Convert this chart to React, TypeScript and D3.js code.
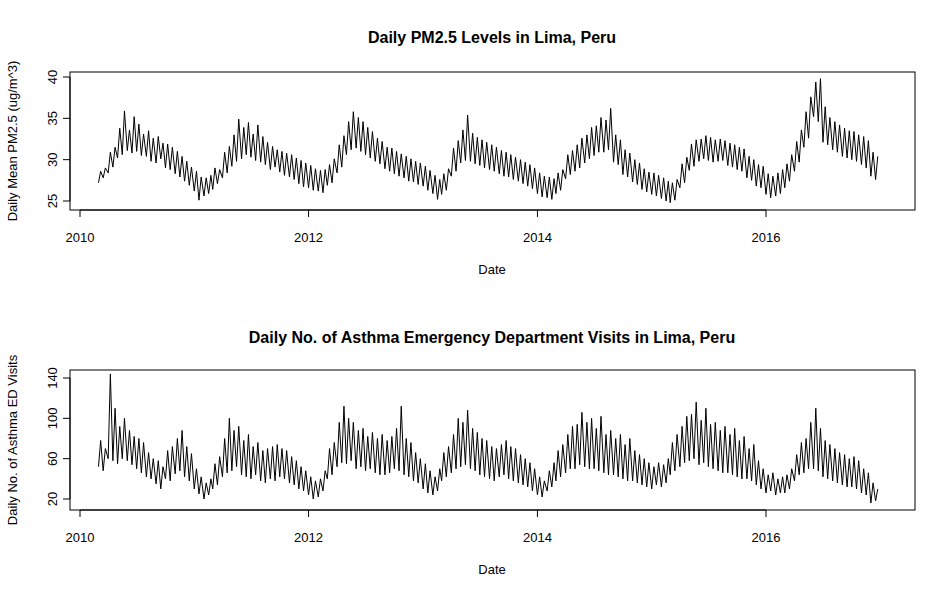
import React from 'react';
import * as d3 from 'd3';

// weekly readings, 4 per month, starting March 2010
const startYear = 2010;
const startMonth = 2; // March (0-based)
const weekDays = [1, 8, 16, 23];

const pm25 = [
  27.2,28.6,27.8,29.0, 28.4,30.9,29.1,31.5, 30.2,33.8,30.6,35.9, 31.1,33.6,30.8,35.2,
  31.0,34.3,30.5,33.1, 30.4,33.5,29.8,32.6, 29.6,32.8,30.1,32.0, 29.0,31.9,28.8,31.5,
  28.3,31.0,27.9,30.4, 27.4,29.8,26.9,29.1,
  26.2,28.6,25.1,27.9, 25.6,27.8,25.9,28.1, 26.4,29.0,27.1,28.8, 27.8,30.9,28.4,31.6,
  29.2,33.0,29.8,34.9, 30.1,33.9,30.6,34.5, 30.3,33.1,29.9,34.2, 29.7,32.8,29.4,32.1,
  28.8,31.6,29.1,31.2, 28.5,31.0,28.1,30.8, 27.9,30.6,27.6,30.2, 27.1,29.9,26.7,29.6,
  26.6,29.3,26.3,28.9, 26.2,28.7,26.0,28.8, 26.9,29.4,27.2,30.1, 28.4,31.8,29.1,32.9,
  30.6,34.6,31.2,35.8, 31.4,35.1,31.0,34.6, 30.6,33.9,30.2,33.4, 29.8,32.6,29.5,32.2,
  28.9,31.5,28.6,31.4, 28.3,31.0,28.0,30.7, 27.8,30.4,27.4,30.1, 27.3,29.8,27.0,29.6,
  26.8,29.2,26.3,28.7, 25.9,28.1,25.2,27.6, 25.8,28.3,26.3,28.9, 28.0,31.4,28.6,32.3,
  29.6,33.6,29.9,35.4, 29.8,33.2,29.5,32.7, 29.3,32.4,29.0,32.1, 28.8,31.8,28.6,31.5,
  28.3,31.1,28.0,30.9, 27.9,30.6,27.6,30.3, 27.4,30.0,27.1,29.7, 26.8,29.4,26.5,29.0,
  25.9,28.4,25.5,28.0, 25.4,27.9,25.2,27.7, 25.9,28.4,26.3,28.8, 27.7,30.6,28.2,31.1,
  28.6,31.8,29.0,32.6, 29.6,33.0,30.1,33.9, 30.5,34.1,30.9,35.1, 30.9,34.8,31.2,36.2,
  29.7,33.0,29.4,32.4, 28.2,31.2,27.9,30.8, 27.3,30.0,27.0,29.6, 26.4,28.9,26.1,28.5,
  25.8,28.4,25.6,28.1, 25.3,27.8,25.0,27.4, 24.8,27.2,25.1,27.6, 26.6,29.5,27.2,30.3,
  28.7,31.9,29.2,32.4, 29.8,32.5,30.1,32.9, 29.9,32.7,29.7,32.4, 29.8,32.5,29.9,32.3,
  29.3,32.0,29.1,31.8, 28.8,31.5,28.6,31.3, 27.8,30.4,27.5,30.0, 26.8,29.4,26.6,29.2,
  25.8,28.3,25.4,28.0, 25.6,28.4,25.9,28.8, 26.6,29.5,27.4,30.6, 28.6,32.2,29.7,33.6,
  31.5,35.8,32.6,37.6, 35.2,39.4,34.6,39.8, 32.1,36.4,31.8,35.1, 31.2,34.6,30.9,34.2,
  30.4,33.8,30.2,33.5, 30.0,33.4,29.8,33.0, 29.4,32.8,29.0,32.3, 28.0,30.9,27.6,30.4,
];

const asthma = [
  52,78,48,70, 60,144,58,110, 55,92,60,100, 58,88,54,82, 50,80,46,76, 42,66,40,60,
  35,58,30,52, 40,68,38,72, 45,80,48,88, 42,72,38,65,
  30,50,25,42, 20,36,24,40, 30,55,34,62, 42,80,46,100, 48,88,52,92, 44,78,42,84,
  40,72,44,76, 38,68,36,70, 40,72,38,74, 42,70,40,68, 36,62,34,58, 30,52,28,48,
  24,42,20,38, 22,40,28,48, 40,70,44,76, 52,96,56,112, 55,100,58,96, 50,88,52,90,
  48,82,50,86, 46,80,44,84, 44,78,46,82, 50,90,48,112, 44,80,42,76, 38,66,36,60,
  30,55,26,48, 24,42,28,50, 38,66,42,72, 46,84,50,100, 52,96,54,108, 50,90,48,86,
  44,80,42,78, 40,72,38,70, 42,74,44,78, 40,72,38,70, 36,64,34,60, 32,56,28,50,
  24,42,22,38, 28,48,32,56, 38,68,42,74, 46,84,50,92, 50,94,54,106, 52,96,50,100,
  50,90,48,102, 46,84,44,88, 44,80,42,84, 40,74,38,80, 38,68,36,64, 34,60,32,56,
  30,52,34,56, 32,54,36,60, 44,76,48,84, 52,92,56,102, 58,104,60,116, 54,98,56,110,
  52,94,50,96, 48,88,46,92, 46,84,44,90, 42,78,40,82, 40,70,38,74, 34,58,30,50,
  26,44,28,46, 24,40,26,42, 26,44,30,50, 38,64,44,76, 46,80,50,96, 50,110,48,90,
  42,78,40,74, 38,70,36,66, 34,64,32,60, 32,62,30,58, 26,50,24,46, 16,36,18,30,
];

const yearTicks = [2010, 2012, 2014, 2016];
const pmTicks = [25, 30, 35, 40];
const asthmaTicks = [20, 60, 100, 140];

const dateAt = (i: number) => {
  const m = startMonth + Math.floor(i / 4);
  return new Date(startYear + Math.floor(m / 12), m % 12, weekDays[i % 4]);
};

const font = 'Liberation Sans, Arial, sans-serif';
const x = d3.scaleTime()
  .domain([new Date(2010, 0, 1), new Date(2016, 0, 1)])
  .range([80, 766]);

interface PanelProps {
  values: number[];
  ticks: number[];
  domain: [number, number];
  yRange: [number, number];
  box: [number, number];
  title: string;
  ylab: string;
  titleY: number;
}

const Panel: React.FC<PanelProps> = ({ values, ticks, domain, yRange, box, title, ylab, titleY }) => {
  const y = d3.scaleLinear().domain(domain).range(yRange);
  const line = d3.line<number>().x((_, i) => x(dateAt(i))).y(d => y(d));
  const [top, bottom] = box;
  const left = 70, right = 915;
  const tx = yearTicks.map(t => x(new Date(t, 0, 1)));
  return (
    <g fontFamily={font}>
      <text x={492} y={titleY} textAnchor="middle" fontWeight="bold" fontSize={16}>{title}</text>
      <rect x={left} y={top} width={right - left} height={bottom - top} fill="none" stroke="#000" />
      <path d={line(values) || ''} fill="none" stroke="#000" strokeWidth={1} />
      <line x1={tx[0]} x2={tx[tx.length - 1]} y1={bottom} y2={bottom} stroke="#000" />
      {yearTicks.map((t, i) => (
        <g key={t}>
          <line x1={tx[i]} x2={tx[i]} y1={bottom} y2={bottom + 7} stroke="#000" />
          <text x={tx[i]} y={bottom + 32} textAnchor="middle" fontSize={13}>{t}</text>
        </g>
      ))}
      <text x={492} y={bottom + 64} textAnchor="middle" fontSize={13}>Date</text>
      <line x1={left} x2={left} y1={y(ticks[0])} y2={y(ticks[ticks.length - 1])} stroke="#000" />
      {ticks.map(t => (
        <g key={t}>
          <line x1={left - 7} x2={left} y1={y(t)} y2={y(t)} stroke="#000" />
          <text transform={`translate(${left - 13},${y(t)}) rotate(-90)`} textAnchor="middle" fontSize={13}>{t}</text>
        </g>
      ))}
      <text transform={`translate(17,${(top + bottom) / 2}) rotate(-90)`} textAnchor="middle" fontSize={13}>{ylab}</text>
    </g>
  );
};

export default function App() {
  return (
    <div style={{ position: 'absolute', left: 0, top: 0 }}>
      <svg width={949} height={600} style={{ background: '#fff', display: 'block' }}>
        <Panel values={pm25} ticks={pmTicks} domain={[25, 40]} yRange={[201, 77]} box={[72, 210]}
          title="Daily PM2.5 Levels in Lima, Peru" ylab="Daily Mean PM2.5 (ug/m^3)" titleY={43} />
        <Panel values={asthma} ticks={asthmaTicks} domain={[20, 140]} yRange={[499, 378]} box={[370, 510]}
          title="Daily No. of Asthma Emergency Department Visits in Lima, Peru"
          ylab="Daily No. of Asthma ED Visits" titleY={343} />
      </svg>
    </div>
  );
}
